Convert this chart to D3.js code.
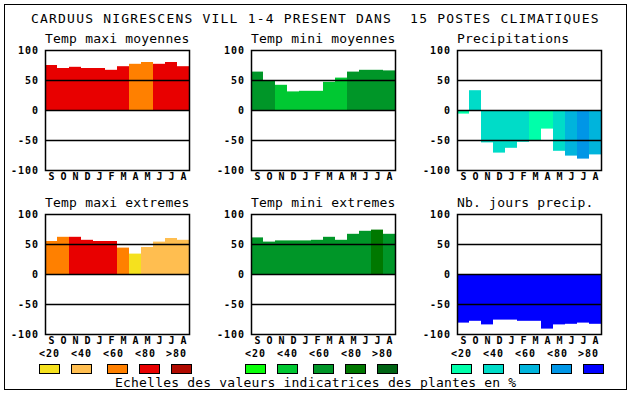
<!DOCTYPE html>
<html><head><meta charset="utf-8">
<script src="https://cdn.jsdelivr.net/npm/d3@7/dist/d3.min.js"></script>
<style>
html,body{margin:0;padding:0;background:#fff;}
svg{display:block;}
text{font-family:"DejaVu Sans Mono","Liberation Mono",monospace;fill:#000;white-space:pre;}
</style></head>
<body>
<script>
// ---- data ----
const months = ["S","O","N","D","J","F","M","A","M","J","J","A"];
const yTicks = [100, 50, 0, -50, -100];
const legendLabels = ["<20","<40","<60","<80",">80"];
const title = "CARDUUS NIGRESCENS VILL 1-4 PRESENT DANS  15 POSTES CLIMATIQUES";
const footer = "Echelles des valeurs indicatrices des plantes en %";

const warmColors  = ["#F5E11E","#FFBE50","#FF8000","#E80000","#B00A00"];
const greenColors = ["#0AFF0A","#00C832","#009628","#007800","#006414"];
const blueColors  = ["#00FFAA","#00DCC8","#00B4DC","#0096E6","#0000FF"];

const tmaxMoyTitle = "Temp maxi moyennes";
const tmaxMoyValues = [75, 70, 72, 70, 70, 67, 73, 77, 80, 77, 80, 73];
const tmaxMoyClass  = [3, 3, 3, 3, 3, 3, 3, 2, 2, 3, 3, 3];

const tminMoyTitle = "Temp mini moyennes";
const tminMoyValues = [64, 50, 42, 31, 32, 32, 47, 54, 64, 67, 67, 66];
const tminMoyClass  = [2, 2, 1, 1, 1, 1, 1, 1, 2, 2, 2, 2];

const precTitle = "Precipitations";
const precValues = [-6, 33, -54, -71, -63, -53, -50, -31, -68, -76, -81, -74];
const precClass  = [0, 1, 1, 1, 1, 1, 0, 0, 1, 2, 3, 2];

const tmaxExtTitle = "Temp maxi extremes";
const tmaxExtValues = [55, 62, 62, 57, 55, 55, 44, 34, 45, 54, 60, 57];
const tmaxExtClass  = [2, 2, 3, 3, 3, 3, 2, 0, 1, 1, 1, 1];

const tminExtTitle = "Temp mini extremes";
const tminExtValues = [61, 54, 56, 56, 56, 57, 62, 57, 67, 72, 74, 67];
const tminExtClass  = [2, 2, 2, 2, 2, 2, 2, 2, 2, 2, 3, 2];

const joursTitle = "Nb. jours precip.";
const joursValues = [-81, -78, -84, -76, -76, -78, -78, -91, -84, -83, -81, -83];
const joursClass  = [4, 4, 4, 4, 4, 4, 4, 4, 4, 4, 4, 4];

// ---- layout ----
const W = 630, H = 394;
const svg = d3.select("body").append("svg").attr("width", W).attr("height", H);

svg.append("rect").attr("x", 4.5).attr("y", 4.5).attr("width", 622).attr("height", 385)
  .attr("fill", "none").attr("stroke", "#000").attr("stroke-width", 1);

svg.append("text").attr("x", 31).attr("y", 23)
  .attr("xml:space", "preserve")
  .style("font-size", "13px").style("letter-spacing", "1.2px")
  .text(title);

const colLefts = [45, 251, 457];
const plotW = 144;
const rows = [{top: 50, bottom: 170, titleY: 43, monthY: 180},
              {top: 214, bottom: 334, titleY: 207, monthY: 344}];

const panels = [
  {row: 0, col: 0, title: tmaxMoyTitle, values: tmaxMoyValues, cls: tmaxMoyClass, colors: warmColors},
  {row: 0, col: 1, title: tminMoyTitle, values: tminMoyValues, cls: tminMoyClass, colors: greenColors},
  {row: 0, col: 2, title: precTitle, values: precValues, cls: precClass, colors: blueColors},
  {row: 1, col: 0, title: tmaxExtTitle, values: tmaxExtValues, cls: tmaxExtClass, colors: warmColors},
  {row: 1, col: 1, title: tminExtTitle, values: tminExtValues, cls: tminExtClass, colors: greenColors},
  {row: 1, col: 2, title: joursTitle, values: joursValues, cls: joursClass, colors: blueColors}
];

panels.forEach(p => {
  const r = rows[p.row];
  const left = colLefts[p.col];
  const x = d3.scaleBand().domain(d3.range(months.length)).range([left, left + plotW]).padding(0);
  const y = d3.scaleLinear().domain([-100, 100]).range([r.bottom, r.top]);
  const g = svg.append("g");

  g.append("text").attr("x", left).attr("y", r.titleY)
    .style("font-size", "13px").style("letter-spacing", "0.2px")
    .text(p.title);

  g.selectAll("rect.bar").data(p.values).join("rect").attr("class", "bar")
    .attr("x", (d, i) => x(i))
    .attr("width", x.bandwidth())
    .attr("y", d => y(Math.max(0, d)))
    .attr("height", d => Math.abs(y(d) - y(0)))
    .attr("fill", (d, i) => p.colors[p.cls[i]]);

  // grid lines at 50, 0, -50
  g.selectAll("line.grid").data([50, 0, -50]).join("line").attr("class", "grid")
    .attr("x1", left).attr("x2", left + plotW + 1)
    .attr("y1", d => Math.round(y(d)) + 0.5).attr("y2", d => Math.round(y(d)) + 0.5)
    .attr("stroke", "#000").attr("stroke-width", 1.3);

  g.append("rect").attr("x", left + 0.5).attr("y", r.top + 0.5)
    .attr("width", plotW).attr("height", r.bottom - r.top)
    .attr("fill", "none").attr("stroke", "#000").attr("stroke-width", 1.5);

  // y tick labels
  g.selectAll("text.ytick").data(yTicks).join("text").attr("class", "ytick")
    .attr("x", left - 6).attr("y", d => y(d) + 3.8)
    .attr("text-anchor", "end")
    .style("font-size", "10px").style("font-weight", "bold").style("letter-spacing", "1px")
    .text(d => d);

  // month labels
  g.selectAll("text.month").data(months).join("text").attr("class", "month")
    .attr("x", (d, i) => x(i) + x.bandwidth() / 2 + 0.5).attr("y", r.monthY)
    .attr("text-anchor", "middle")
    .style("font-size", "10px").style("font-weight", "bold")
    .text(d => d);

  if (p.row === 1) {
    g.selectAll("text.leg").data(legendLabels).join("text").attr("class", "leg")
      .attr("x", (d, i) => left - 6 + 32 * i - (i === 4 ? 1 : 0)).attr("y", 357)
      .style("font-size", "10px").style("font-weight", "bold").style("letter-spacing", "1px")
      .text(d => d);
    const boxOff = [-6, 26, 62, 94, 126];
    g.selectAll("rect.legbox").data(p.colors).join("rect").attr("class", "legbox")
      .attr("x", (d, i) => left + boxOff[i] + 0.5).attr("y", 364.5)
      .attr("width", 20).attr("height", 9)
      .attr("fill", d => d).attr("stroke", "#000").attr("stroke-width", 1);
  }
});

svg.append("text").attr("x", 115).attr("y", 387)
  .style("font-size", "13px").style("letter-spacing", "0.2px")
  .text(footer);
</script>
</body></html>
